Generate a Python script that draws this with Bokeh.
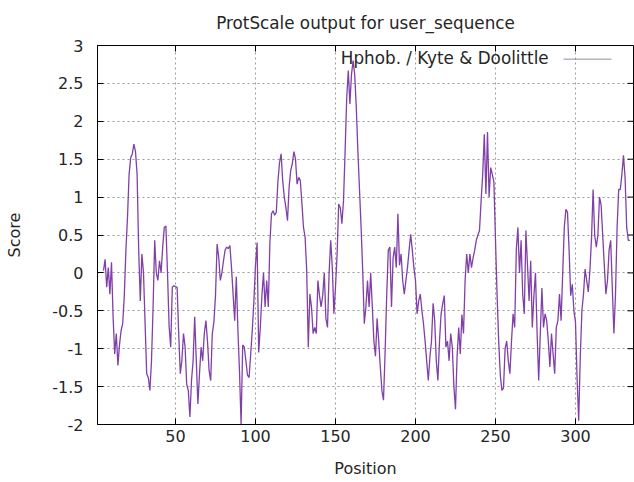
from bokeh.plotting import figure
from bokeh.models import (Range1d, FixedTicker, Label, Arrow, ColumnDataSource)
from bokeh.embed import file_html
from bokeh.resources import INLINE

title = "ProtScale output for user_sequence"
legend_label = "Hphob. / Kyte & Doolittle"
x_label = "Position"
y_label = "Score"

first_position = 5
scores = [
    0.03, 0.18, -0.19, 0.07, -0.28, 0.14, -0.58, -1.07, -0.8, -1.22,
    -0.95, -0.76, -0.67, -0.3, 0.3, 0.73, 1.3, 1.52, 1.57, 1.7,
    1.6, 1.3, 0.3, -0.37, 0.25, 0.0, -0.67, -1.33, -1.38, -1.55,
    -1.16, -0.45, 0.43, 0.0, -0.1, 0.16, 0.0, 0.34, 0.6, 0.62,
    0.0, -0.7, -0.98, -0.19, -0.17, -0.18, -0.19, -0.8, -1.33, -1.15,
    -0.8, -0.98, -1.47, -1.55, -1.9, -1.42, -1.16, -0.58, -1.16, -1.73,
    -1.33, -0.98, -1.16, -0.8, -0.63, -0.9, -1.29, -1.42, -0.8, -0.65,
    -0.3, 0.38, 0.21, -0.1, 0.0, 0.16, 0.3, 0.34, 0.32, 0.36,
    0.07, -0.28, -0.63, -0.05, -0.75, -1.3, -2.0, -0.95, -0.98, -1.16,
    -1.35, -1.38, -1.07, -0.75, -0.37, 0.1, 0.4, -1.05, -0.72, -0.3,
    0.0, -0.45, -0.1, -0.45, 0.4, 0.78, 0.82, 0.76, 0.8, 1.2,
    1.45, 1.57, 1.22, 1.0, 0.86, 0.69, 1.13, 1.35, 1.44, 1.6,
    1.5, 1.17, 1.26, 1.22, 0.92, 0.6, 0.47, 0.03, -0.98, -0.28,
    -0.45, -0.8, -0.72, -0.8, -0.1, -0.3, -0.45, -0.3, 0.0, -0.6,
    -0.72, 0.0, 0.43, 0.07, -0.54, -0.19, 0.25, 0.91, 0.86, 0.65,
    0.95, 1.6, 2.3, 2.67, 2.23, 2.62, 2.8, 2.62, 2.18, 1.6,
    1.1, 0.6, 0.03, -0.67, -0.45, -0.1, -0.45, 0.0, -0.45, -0.9,
    -1.1, -0.6, -0.9, -1.24, -1.55, -1.68, -1.05, -0.3, 0.3, 0.34,
    -0.45, 0.2, 0.34, 0.07, 0.78, 0.1, 0.25, -0.1, -0.28, -0.1,
    0.07, 0.3, 0.51, 0.3, 0.07, -0.1, -0.54, -0.37, -0.28, -0.5,
    -0.67, -0.9, -1.16, -1.42, -1.11, -0.9, -0.4, -0.63, -1.16, -1.42,
    -0.9, -0.54, -0.41, -0.3, -0.98, -0.9, -1.16, -0.8, -0.98, -1.5,
    -1.8, -1.1, -0.72, -1.07, -0.55, -0.8, -0.1, 0.25, 0.0, 0.25,
    0.07, 0.2, 0.3, 0.43, 0.5, 0.56, 0.95, 1.3, 1.83, 1.04,
    1.86, 1.0, 1.39, 1.3, 1.2, 0.43, -0.3, -0.9, -1.35, -1.55,
    -1.52, -1.0, -0.9, -1.16, -1.33, -0.9, -0.54, -0.72, 0.3, 0.6,
    0.0, 0.43, -0.28, -0.54, 0.56, 0.1, -0.37, 0.16, -0.72, -0.3,
    0.0, -0.8, -1.42, -0.8, -0.2, -0.72, -0.54, -0.63, -0.9, -1.24,
    -0.8, -1.07, -1.33, -0.72, -0.63, -0.28, -0.63, 0.0, 0.6, 0.84,
    0.8, 0.3, -0.3, -0.15, -0.5, -0.65, -1.4, -1.95, -1.1, -0.5,
    -0.28, 0.05, -0.1, -0.25, 0.03, 0.45, 1.1, 0.5, 0.34, 0.5,
    1.0, 0.9, 0.5, 0.1, -0.28, -0.1, 0.3, 0.43, -0.2, -0.8,
    -0.28, 0.6, 1.1, 1.1, 1.3, 1.55, 1.25, 0.6, 0.43, 0.43,
]
positions = list(range(first_position, first_position + len(scores)))

x_ticks = [50, 100, 150, 200, 250, 300]
y_ticks = [-2, -1.5, -1, -0.5, 0, 0.5, 1, 1.5, 2, 2.5, 3]
y_tick_labels = ["-2", "-1.5", "-1", "-0.5", "0", "0.5", "1", "1.5", "2", "2.5", "3"]

FONT = "DejaVu Sans"
TXT = "#262626"
LINE = "#8040a8"
GRID = "#9a9a9a"

W, H = 634, 482
BL, BR, BT, BB = 97, 1, 45, 58
X0, X1 = 1.25, 336.25
Y0, Y1 = -2, 3

p = figure(width=W, height=H, output_backend="svg", toolbar_location=None,
           x_range=Range1d(X0, X1), y_range=Range1d(Y0, Y1),
           min_border_left=BL, min_border_right=BR, min_border_top=BT,
           min_border_bottom=BB)
p.background_fill_color = "white"
p.border_fill_color = "white"
p.outline_line_color = "black"
p.outline_line_width = 1

p.title.text = title
p.title.align = "center"
p.title.vertical_align = "top"
p.title.text_font = FONT
p.title.text_font_size = "16.8px"
p.title.text_font_style = "normal"
p.title.text_color = TXT
p.title.standoff = 21

# grid
p.xgrid.ticker = FixedTicker(ticks=x_ticks)
p.ygrid.ticker = FixedTicker(ticks=y_ticks)
for g in (p.xgrid, p.ygrid):
    g.grid_line_color = GRID
    g.grid_line_dash = "2 3"
    g.grid_line_width = 1

xa = p.xaxis[0]
xa.ticker = FixedTicker(ticks=x_ticks)
xa.axis_label = x_label
ya = p.yaxis[0]
ya.ticker = FixedTicker(ticks=y_ticks)
ya.major_label_overrides = dict(zip(y_ticks, y_tick_labels))
ya.axis_label = y_label

for ax in (xa, ya):
    ax.axis_line_color = "black"
    ax.major_tick_line_color = "black"
    ax.major_tick_in = 6
    ax.major_tick_out = 0
    ax.minor_tick_in = 0
    ax.minor_tick_out = 0
    ax.major_label_text_font = FONT
    ax.major_label_text_font_size = "16px"
    ax.major_label_text_color = TXT
    ax.axis_label_text_font = FONT
    ax.axis_label_text_font_size = "16px"
    ax.axis_label_text_font_style = "normal"
    ax.axis_label_text_color = TXT

xa.major_label_standoff = 5
xa.axis_label_standoff = 14
ya.major_label_standoff = 14
ya.axis_label_standoff = 25

# mirrored inward ticks on top and right border (gnuplot style)
frame_w = W - BL - BR
frame_h = H - BT - BB
tick_dx = 6 * (X1 - X0) / frame_w
tick_dy = 6 * (Y1 - Y0) / frame_h
p.segment(x0=x_ticks, y0=[Y1] * len(x_ticks), x1=x_ticks,
          y1=[Y1 - tick_dy] * len(x_ticks), line_color="black", line_width=1)
p.segment(x0=[X1] * len(y_ticks), y0=y_ticks, x1=[X1 - tick_dx] * len(y_ticks),
          y1=y_ticks, line_color="black", line_width=1)

src = ColumnDataSource(dict(position=positions, score=scores))
p.line(x="position", y="score", source=src, line_color=LINE, line_width=1.3)

# gnuplot-style key: text then sample line
p.add_layout(Label(x=283.2, y=2.83, text=legend_label, text_align="right",
                   text_baseline="middle", text_font=FONT,
                   text_font_size="16.8px", text_color=TXT))
p.add_layout(Arrow(start=None, end=None, x_start=292.5, y_start=2.82,
                   x_end=322.5, y_end=2.82, line_color="#9a88aa", line_width=1))

with open("out.html", "w") as f:
    f.write(file_html(p, INLINE))
